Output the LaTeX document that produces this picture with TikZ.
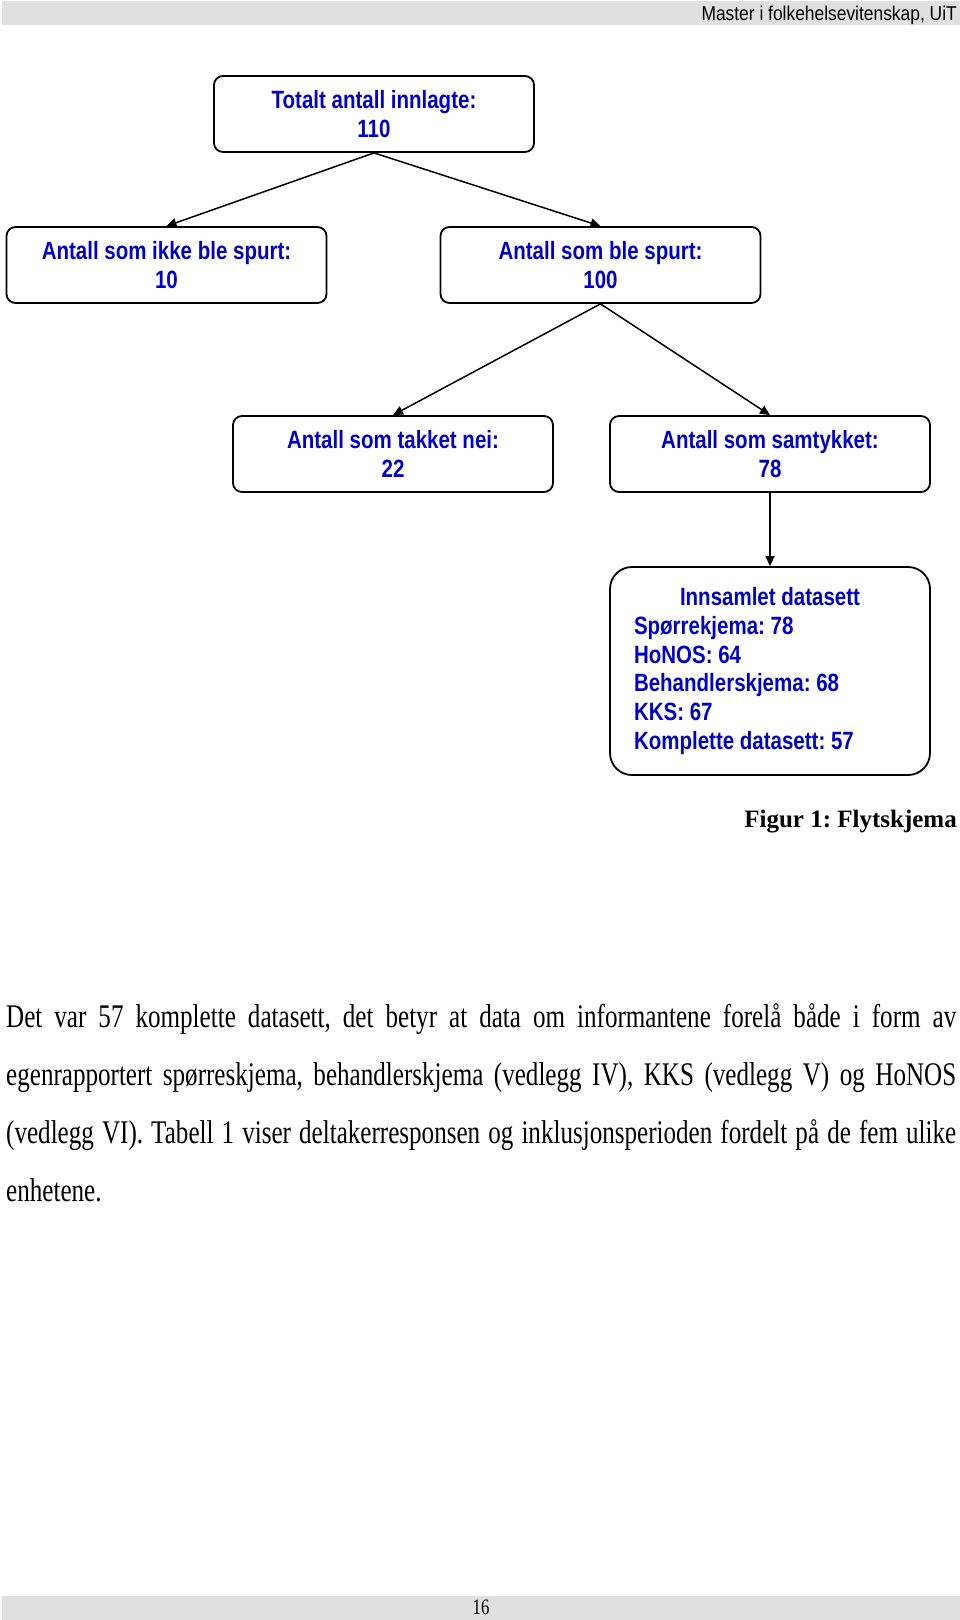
\documentclass[tikz,border=0pt]{standalone}
\usepackage{fontspec}
\setmainfont{Liberation Serif}
\newfontfamily\boxfont{Liberation Sans}[FakeStretch=0.82]
\newfontfamily\hdrfont{Liberation Sans}[FakeStretch=0.87]
\newfontfamily\parfont{Liberation Serif}[FakeStretch=0.76]
\usetikzlibrary{arrows.meta}
\definecolor{boxblue}{RGB}{0,0,200}
\definecolor{bargray}{RGB}{224,224,224}
\newcommand\natspace{\spaceskip=0pt\xspaceskip=0pt\relax}
\begin{document}
\frenchspacing
\begin{tikzpicture}[x=1pt,y=-1pt,
  flowbox/.style={draw=black, line width=1.8pt, rounded corners=9pt,
    minimum width=320pt, minimum height=76pt, inner sep=0pt, align=center,
    text=boxblue, font=\boxfont\bfseries\frenchspacing\fontsize{25}{28.5}\selectfont},
  bigbox/.style={flowbox, rounded corners=22pt, minimum height=208pt,
    inner xsep=24pt, text width=272pt, align=left,
    font=\boxfont\bfseries\frenchspacing\fontsize{25}{28.8}\selectfont},
  arr/.style={draw=black, line width=1.5pt, -{Triangle[length=10pt,width=9pt]}},
  parline/.style={anchor=base west, inner sep=0pt, font=\parfont\frenchspacing\fontsize{33}{40}\selectfont}]
\fill[white] (0,0) rectangle (960,1620);
\useasboundingbox (0,0) rectangle (960,1620);
% header and footer bars
\fill[bargray] (2,1) rectangle (960,25);
\node[anchor=base east, inner sep=0pt, font=\hdrfont\fontsize{20}{24}\selectfont] (hdr) at (957,20) {Master i folkehelsevitenskap, UiT};
\fill[bargray] (2,1596) rectangle (960,1620);
\node[anchor=base, inner sep=0pt, font=\parfont\fontsize{22}{24}\selectfont] (pgno) at (481,1614.5) {16};
% flow chart
\node[flowbox] (top) at (374,114) {Totalt antall innlagte:\\110};
\node[flowbox] (b2l) at (166.5,265) {Antall som ikke ble spurt:\\10};
\node[flowbox] (b2r) at (600.5,265) {Antall som ble spurt:\\100};
\node[flowbox] (b3l) at (393,454) {Antall som takket nei:\\22};
\node[flowbox] (b3r) at (770,454) {Antall som samtykket:\\78};
\node[bigbox] (b4) at (770,671) {\natspace\makebox[272pt]{\natspace Innsamlet datasett}\\\natspace Spørrekjema: 78\\\natspace HoNOS: 64\\\natspace Behandlerskjema: 68\\\natspace KKS: 67\\\natspace Komplette datasett: 57};
\draw[arr] (top.south) -- (b2l.north);
\draw[arr] (top.south) -- (b2r.north);
\draw[arr] (b2r.south) -- (b3l.north);
\draw[arr] (b2r.south) -- (b3r.north);
\draw[arr] (b3r.south) -- (b4.north);
% caption
\node[anchor=base east, inner sep=0pt, font=\bfseries\frenchspacing\fontsize{25}{30}\selectfont] (cap) at (957,827) {Figur 1: Flytskjema};
% paragraph
\node[parline] (p1) at (6,1027) {\makebox[950pt][s]{Det var 57 komplette datasett, det betyr at data om informantene forelå både i form av}};
\node[parline] (p2) at (6,1085) {\makebox[950pt][s]{egenrapportert spørreskjema, behandlerskjema (vedlegg IV), KKS (vedlegg V) og HoNOS}};
\node[parline] (p3) at (6,1143) {\makebox[950pt][s]{(vedlegg VI). Tabell 1 viser deltakerresponsen og inklusjonsperioden fordelt på de fem ulike}};
\node[parline] (p4) at (6,1201) {enhetene.};
\end{tikzpicture}
\end{document}
